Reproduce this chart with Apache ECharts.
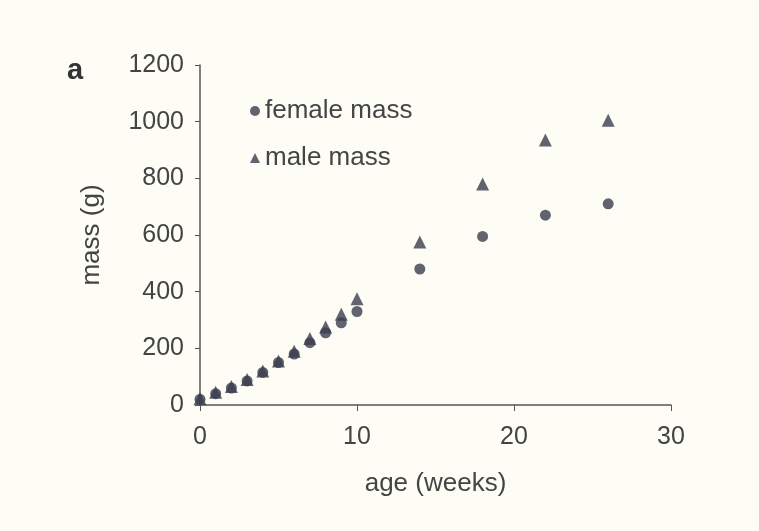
<!DOCTYPE html>
<html>
<head>
<meta charset="utf-8">
<script src="https://cdn.jsdelivr.net/npm/echarts@6/dist/echarts.min.js"></script>
<style>html,body{margin:0;padding:0;background:#fdfdf6;}#c{width:759px;height:531px;}</style>
</head>
<body>
<div id="c"></div>
<script>
var weeks = [0, 1, 2, 3, 4, 5, 6, 7, 8, 9, 10, 14, 18, 22, 26];
var femaleMass = [20, 40, 60, 85, 115, 150, 180, 220, 255, 290, 330, 480, 595, 670, 710];
var maleMass = [22, 45, 65, 90, 120, 155, 190, 235, 275, 320, 375, 575, 780, 935, 1005];
var xTicks = [0, 10, 20, 30];
var yTicks = [0, 200, 400, 600, 800, 1000, 1200];

function pairs(xs, ys) { return xs.map(function (x, i) { return [x, ys[i]]; }); }

var font = 'Liberation Sans, Arial, sans-serif';
var chart = echarts.init(document.getElementById('c'));
chart.setOption({
  backgroundColor: '#fdfdf6',
  animation: false,
  grid: { left: 200, right: 88, top: 65, bottom: 126 },
  xAxis: {
    type: 'value', min: xTicks[0], max: xTicks[xTicks.length - 1], interval: xTicks[1] - xTicks[0],
    name: 'age (weeks)', nameLocation: 'middle', nameGap: 66,
    nameTextStyle: { fontFamily: font, fontSize: 26, color: '#444' },
    axisLine: { lineStyle: { color: '#555', width: 1.5 } },
    axisTick: { show: true, length: 6, lineStyle: { color: '#555' } },
    axisLabel: { fontFamily: font, fontSize: 25, color: '#444', margin: 20 },
    splitLine: { show: false }
  },
  yAxis: {
    type: 'value', min: yTicks[0], max: yTicks[yTicks.length - 1], interval: yTicks[1] - yTicks[0],
    name: 'mass (g)', nameLocation: 'middle', nameGap: 95, nameRotate: 90,
    nameTextStyle: { fontFamily: font, fontSize: 26, color: '#444' },
    axisLine: { show: true, lineStyle: { color: '#555', width: 1.5 } },
    axisTick: { show: true, length: 5, lineStyle: { color: '#555' } },
    axisLabel: { fontFamily: font, fontSize: 25, color: '#444', margin: 16,
      formatter: function (v) { return String(v); } },
    splitLine: { show: false }
  },
  legend: {
    orient: 'vertical', left: 245, top: 93, itemGap: 21,
    itemWidth: 10, itemHeight: 10,
    textStyle: { fontFamily: font, fontSize: 26, color: '#444' },
    data: [
      { name: 'female mass', icon: 'circle' },
      { name: 'male mass', icon: 'triangle' }
    ]
  },
  graphic: [{
    type: 'text', left: 67, top: 56,
    style: { text: 'a', font: 'bold 29px Liberation Sans, Arial, sans-serif', fill: '#333' }
  }],
  series: [
    {
      name: 'female mass', type: 'scatter', symbol: 'circle', symbolSize: 11,
      itemStyle: { color: '#393d4e' },
      data: pairs(weeks, femaleMass)
    },
    {
      name: 'male mass', type: 'scatter', symbol: 'triangle', symbolSize: 13,
      itemStyle: { color: '#393d4e' },
      data: pairs(weeks, maleMass)
    }
  ]
});
</script>
</body>
</html>
